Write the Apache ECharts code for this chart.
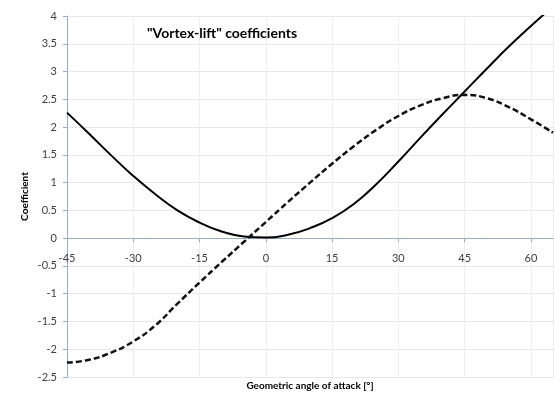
<!DOCTYPE html>
<html>
<head>
<meta charset="utf-8">
<title>"Vortex-lift" coefficients</title>
<script src="https://cdn.jsdelivr.net/npm/echarts@6/dist/echarts.min.js"></script>
<style>
  html, body { margin: 0; padding: 0; background: #ffffff; }
  #chart { width: 555px; height: 394px; }
</style>
</head>
<body>
<div id="chart"></div>
<script>
// Geometric angle of attack, degrees
const angles = [-45, -40, -35, -30, -25, -20, -15, -10, -5, 0, 5, 10, 15, 20, 25, 30, 35, 40, 45, 50, 55, 60, 65];

// Solid curve
const solidValues = [2.26, 1.88, 1.49, 1.12, 0.79, 0.50, 0.28, 0.12, 0.03, 0.01, 0.06, 0.18, 0.36, 0.62, 0.97, 1.38, 1.81, 2.23, 2.64, 3.05, 3.45, 3.82, 4.17];

// Dashed curve
const dashedValues = [-2.24, -2.19, -2.06, -1.86, -1.57, -1.18, -0.80, -0.43, -0.07, 0.29, 0.65, 1.00, 1.34, 1.66, 1.95, 2.20, 2.39, 2.52, 2.58, 2.52, 2.36, 2.14, 1.90];

// Axis ticks
const xTicks = { min: -45, max: 65, step: 15 };
const yTicks = { min: -2.5, max: 4, step: 0.5 };

const titleText = '"Vortex-lift" coefficients';
const xName = 'Geometric angle of attack [°]';
const yName = 'Coefficient';

const FONT = 'Lato, "Open Sans", sans-serif';
const W = 555, H = 394;
const GRID = { left: 67, right: 2, top: 16, bottom: 17 };

function pairs(xs, ys) {
  return xs.map((x, i) => [x, ys[i]]);
}

const chart = echarts.init(document.getElementById('chart'), null, { renderer: 'canvas' });

const option = {
  backgroundColor: '#ffffff',
  animation: false,
  textStyle: { fontFamily: FONT },
  title: {
    text: titleText,
    left: 142,
    top: 21,
    textStyle: { fontFamily: FONT, fontSize: 14, fontWeight: 'bold', color: '#000000' }
  },
  grid: Object.assign({ containLabel: false, outerBoundsMode: 'none' }, GRID),
  xAxis: {
    type: 'value',
    position: 'bottom',
    offset: 0,
    min: xTicks.min,
    max: xTicks.max,
    interval: xTicks.step,
    axisLine: { onZero: false, lineStyle: { color: '#98aec6', width: 1 } },
    axisTick: { show: true, length: 4, inside: false, lineStyle: { color: '#98aec6' } },
    axisLabel: {
      showMaxLabel: false,
      margin: 15,
      fontFamily: FONT,
      fontSize: 11,
      color: '#404040'
    },
    splitLine: { show: true, lineStyle: { color: '#eeeeee', width: 1 } }
  },
  yAxis: {
    type: 'value',
    min: yTicks.min,
    max: yTicks.max,
    interval: yTicks.step,
    name: yName,
    nameLocation: 'middle',
    nameGap: 37,
    nameMoveOverlap: false,
    nameTextStyle: { fontFamily: FONT, fontSize: 10, fontWeight: 'bold', color: '#000000' },
    axisLine: { show: true, onZero: false, lineStyle: { color: '#98aec6', width: 1 } },
    axisTick: { show: true, length: 4, lineStyle: { color: '#98aec6' } },
    axisLabel: { margin: 10, fontFamily: FONT, fontSize: 11, color: '#404040' },
    splitLine: { show: true, lineStyle: { color: '#e8e8e8', width: 1 } }
  },
  graphic: [{
    type: 'text',
    x: GRID.left + (W - GRID.left - GRID.right) / 2,
    y: 386,
    style: {
      text: xName,
      fontFamily: FONT,
      fontSize: 10,
      fontWeight: 'bold',
      fill: '#000000',
      align: 'center',
      verticalAlign: 'middle'
    }
  }],
  series: [
    {
      name: 'Solid',
      type: 'line',
      data: pairs(angles, solidValues),
      smooth: 0.5,
      showSymbol: false,
      clip: true,
      lineStyle: { color: '#000000', width: 2 }
    },
    {
      name: 'Dashed',
      type: 'line',
      data: pairs(angles, dashedValues),
      smooth: 0.5,
      showSymbol: false,
      clip: true,
      lineStyle: { color: '#111111', width: 2.5, type: [6, 3] }
    }
  ]
};

chart.setOption(option);

// Lift the x axis (line, ticks and labels) up to where y = 0 sits;
// repeat once so the offset is measured on the settled layout
const bottomY = H - GRID.bottom;
for (let i = 0; i < 2; i++) {
  const zeroY = chart.convertToPixel({ yAxisIndex: 0 }, 0);
  chart.setOption({ xAxis: { offset: zeroY - bottomY } });
}
</script>
</body>
</html>
